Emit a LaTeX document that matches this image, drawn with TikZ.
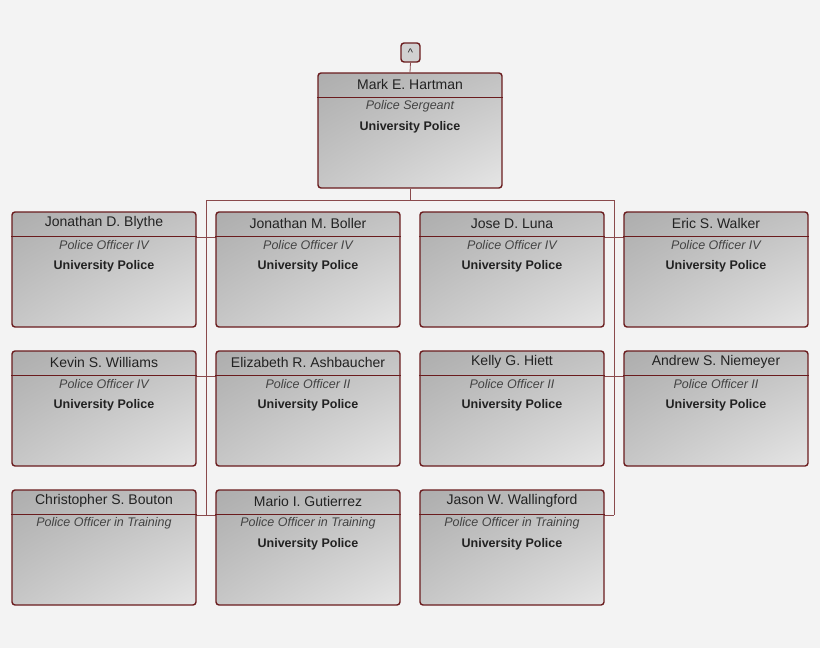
\documentclass[tikz,border=0pt]{standalone}
\usepackage{fontspec}
\usetikzlibrary{shadings}
\setmainfont{Liberation Sans}
\definecolor{bord}{HTML}{6A1C1E}
\definecolor{conn}{HTML}{8A4A4C}
\definecolor{bg}{HTML}{F3F3F3}
\definecolor{txt}{HTML}{222222}
\begin{document}
\begin{tikzpicture}[x=1pt,y=-1pt,
  card/.style={rectangle,rounded corners=3pt,draw=bord,line width=1.4pt,minimum width=184pt,minimum height=115pt,inner sep=0pt,
    upper left=black!32,upper right=black!24,lower left=black!22,lower right=black!10},
  conline/.style={draw=conn,line width=0.8pt},
  nm/.style={font=\fontsize{14}{14}\selectfont,text=txt},
  tt/.style={font=\fontsize{12.5}{13}\selectfont\itshape,text=txt!85},
  dp/.style={font=\fontsize{12.5}{13}\selectfont\bfseries,text=txt}]
\fill[bg] (0,0) rectangle (820,648);
\useasboundingbox (0,0) rectangle (820,648);
\coordinate (jl) at (206,200);
\coordinate (jr) at (614,200);
\coordinate (jm) at (410,200);
\newcommand{\card}[6]{%
  \node[card] (#1) at (#2,#3) {};
  \draw[bord,line width=0.9pt] ([yshift=-25pt]#1.north west) -- ([yshift=-25pt]#1.north east);
  \node[nm] at ([yshift=-12pt]#1.north) {#4};
  \node[tt] at ([yshift=-34pt]#1.north) {#5};
  \node[dp] at ([yshift=-55pt]#1.north) {#6};}
\node[rectangle,rounded corners=3pt,draw=bord,line width=1.4pt,fill=black!18,minimum size=19pt,inner sep=0pt,font=\fontsize{11}{11}\selectfont,text=txt] (up) at (410.5,52.5) {\textasciicircum};
\card{top}{410}{130.5}{Mark E. Hartman}{Police Sergeant}{University Police}
\draw[conline] (up.south) -- (top.north);
\draw[conline] (top.south) -- (jm) (jl) -- (jr) (jl) -- (206,515) (jr) -- (614,515);
\draw[conline] (104,237) -- (308,237) (104,376) -- (308,376) (104,515) -- (308,515);
\draw[conline] (512,237) -- (716,237) (512,376) -- (716,376) (512,515) -- (614,515);
\card{a1}{104}{269.5}{Jonathan D. Blythe}{Police Officer IV}{University Police}
\card{b1}{308}{269.5}{Jonathan M. Boller}{Police Officer IV}{University Police}
\card{c1}{512}{269.5}{Jose D. Luna}{Police Officer IV}{University Police}
\card{d1}{716}{269.5}{Eric S. Walker}{Police Officer IV}{University Police}
\card{a2}{104}{408.5}{Kevin S. Williams}{Police Officer IV}{University Police}
\card{b2}{308}{408.5}{Elizabeth R. Ashbaucher}{Police Officer II}{University Police}
\card{c2}{512}{408.5}{Kelly G. Hiett}{Police Officer II}{University Police}
\card{d2}{716}{408.5}{Andrew S. Niemeyer}{Police Officer II}{University Police}
\card{a3}{104}{547.5}{Christopher S. Bouton}{Police Officer in Training}{}
\card{b3}{308}{547.5}{Mario I. Gutierrez}{Police Officer in Training}{University Police}
\card{c3}{512}{547.5}{Jason W. Wallingford}{Police Officer in Training}{University Police}
\draw[conline] (a1.east |- 0,237) -- (b1.west |- 0,237) (c1.east |- 0,237) -- (d1.west |- 0,237);
\draw[conline] (a2.east |- 0,376) -- (b2.west |- 0,376) (c2.east |- 0,376) -- (d2.west |- 0,376);
\draw[conline] (a3.east |- 0,515) -- (b3.west |- 0,515) (c3.east |- 0,515) -- (614,515);
\end{tikzpicture}
\end{document}
